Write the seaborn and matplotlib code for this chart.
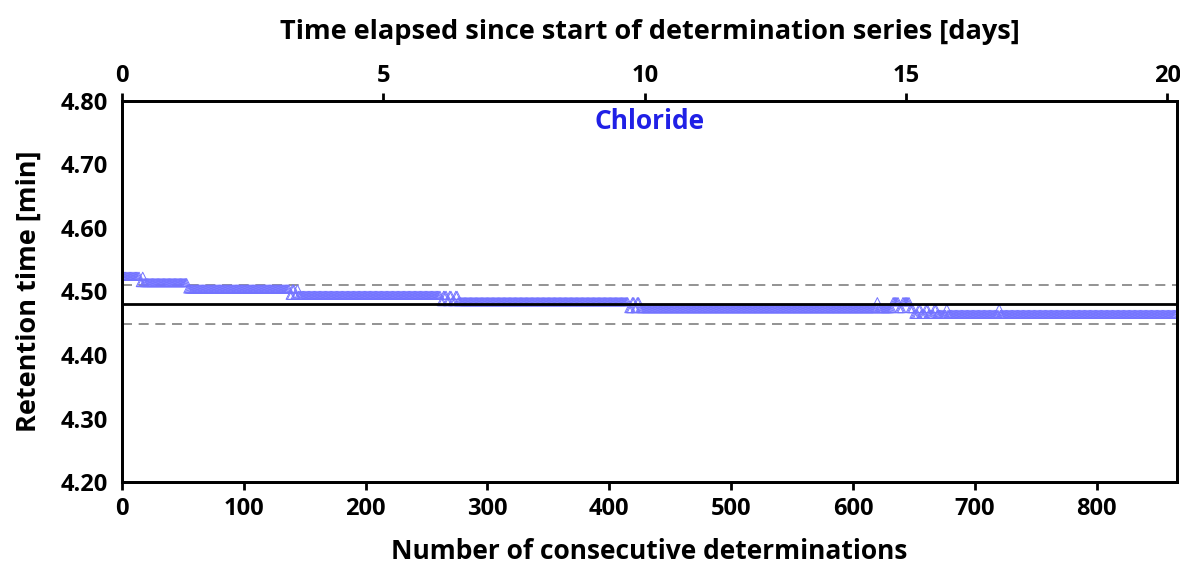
import numpy as np
import pandas as pd
import matplotlib
matplotlib.use("Agg")
import matplotlib.pyplot as plt
import seaborn as sns

sns.set_style("white")
plt.rcParams["font.family"] = ["Open Sans", "DejaVu Sans"]
plt.rcParams["font.weight"] = "bold"
plt.rcParams["text.color"] = "black"
plt.rcParams["axes.labelcolor"] = "black"
plt.rcParams["xtick.color"] = "black"
plt.rcParams["ytick.color"] = "black"

# retention time levels, as runs (value, number of determinations)
run_values = [4.524, 4.514, 4.524, 4.514, 4.504, 4.494, 4.504, 4.494, 4.504, 4.494,
              4.484, 4.494, 4.484, 4.494, 4.484, 4.494, 4.484,
              4.473, 4.484, 4.473, 4.484, 4.473,
              4.484, 4.473, 4.484, 4.473, 4.484, 4.473,
              4.464, 4.473, 4.464, 4.473, 4.464, 4.473, 4.464, 4.473, 4.464, 4.473, 4.464]
run_lengths = [15, 2, 1, 36, 84, 2, 2, 2, 1, 117,
               2, 3, 2, 2, 3, 2, 140,
               3, 2, 2, 2, 195,
               1, 12, 5, 3, 6, 3,
               4, 2, 4, 2, 5, 2, 8, 1, 42, 1, 145]

mean_rt = 4.480
upper_rt = 4.511
lower_rt = 4.449

x_max = 866
det_per_day = 42.9
y_ticks = [4.20, 4.30, 4.40, 4.50, 4.60, 4.70, 4.80]
x_ticks = [0, 100, 200, 300, 400, 500, 600, 700, 800]
day_ticks = [0, 5, 10, 15, 20]

rt = np.repeat(run_values, run_lengths)
df = pd.DataFrame({"n": np.arange(len(rt)), "rt": rt})

fig = plt.figure(figsize=(11.8, 5.68), dpi=100)
ax = fig.add_axes([0.1034, 0.1514, 0.8941, 0.6708])

ax.axhline(upper_rt, color="#808080", lw=1.2, dashes=(6, 4), zorder=1)
ax.axhline(lower_rt, color="#808080", lw=1.2, dashes=(6, 4), zorder=1)
sns.scatterplot(data=df, x="n", y="rt", ax=ax, marker="^", s=34,
                facecolor="none", edgecolor="#7373ff", linewidth=0.7, zorder=2)
ax.axhline(mean_rt, color="black", lw=2, zorder=3)

ax.set_xlim(0, x_max)
ax.set_ylim(4.20, 4.80)
ax.set_xticks(x_ticks)
ax.set_yticks(y_ticks)
ax.set_yticklabels([f"{v:.2f}" for v in y_ticks])
ax.tick_params(axis="x", direction="out", length=6, width=2, labelsize=17, pad=5)
ax.tick_params(axis="y", direction="inout", length=12, width=2, labelsize=17, pad=4)
for t in ax.get_xticklabels() + ax.get_yticklabels():
    t.set_fontweight("bold")
for s in ax.spines.values():
    s.set_linewidth(2)
    s.set_color("black")

ax.set_xlabel("Number of consecutive determinations", fontsize=19, fontweight="bold", labelpad=12)
ax.set_ylabel("Retention time [min]", fontsize=19.5, fontweight="bold", labelpad=14)

ax.text(0.5, 0.945, "Chloride", transform=ax.transAxes, ha="center", va="center",
        color="#2020e6", fontsize=19, fontweight="bold")

top = ax.twiny()
top.set_xlim(0, x_max / det_per_day)
top.set_xticks(day_ticks)
top.tick_params(axis="x", direction="out", length=6, width=2, labelsize=17, pad=3)
for t in top.get_xticklabels():
    t.set_fontweight("bold")
top.set_xlabel("Time elapsed since start of determination series [days]",
               fontsize=19.5, fontweight="bold", labelpad=18)
for s in top.spines.values():
    s.set_linewidth(2)
    s.set_color("black")

fig.savefig("out.png", dpi=100)
